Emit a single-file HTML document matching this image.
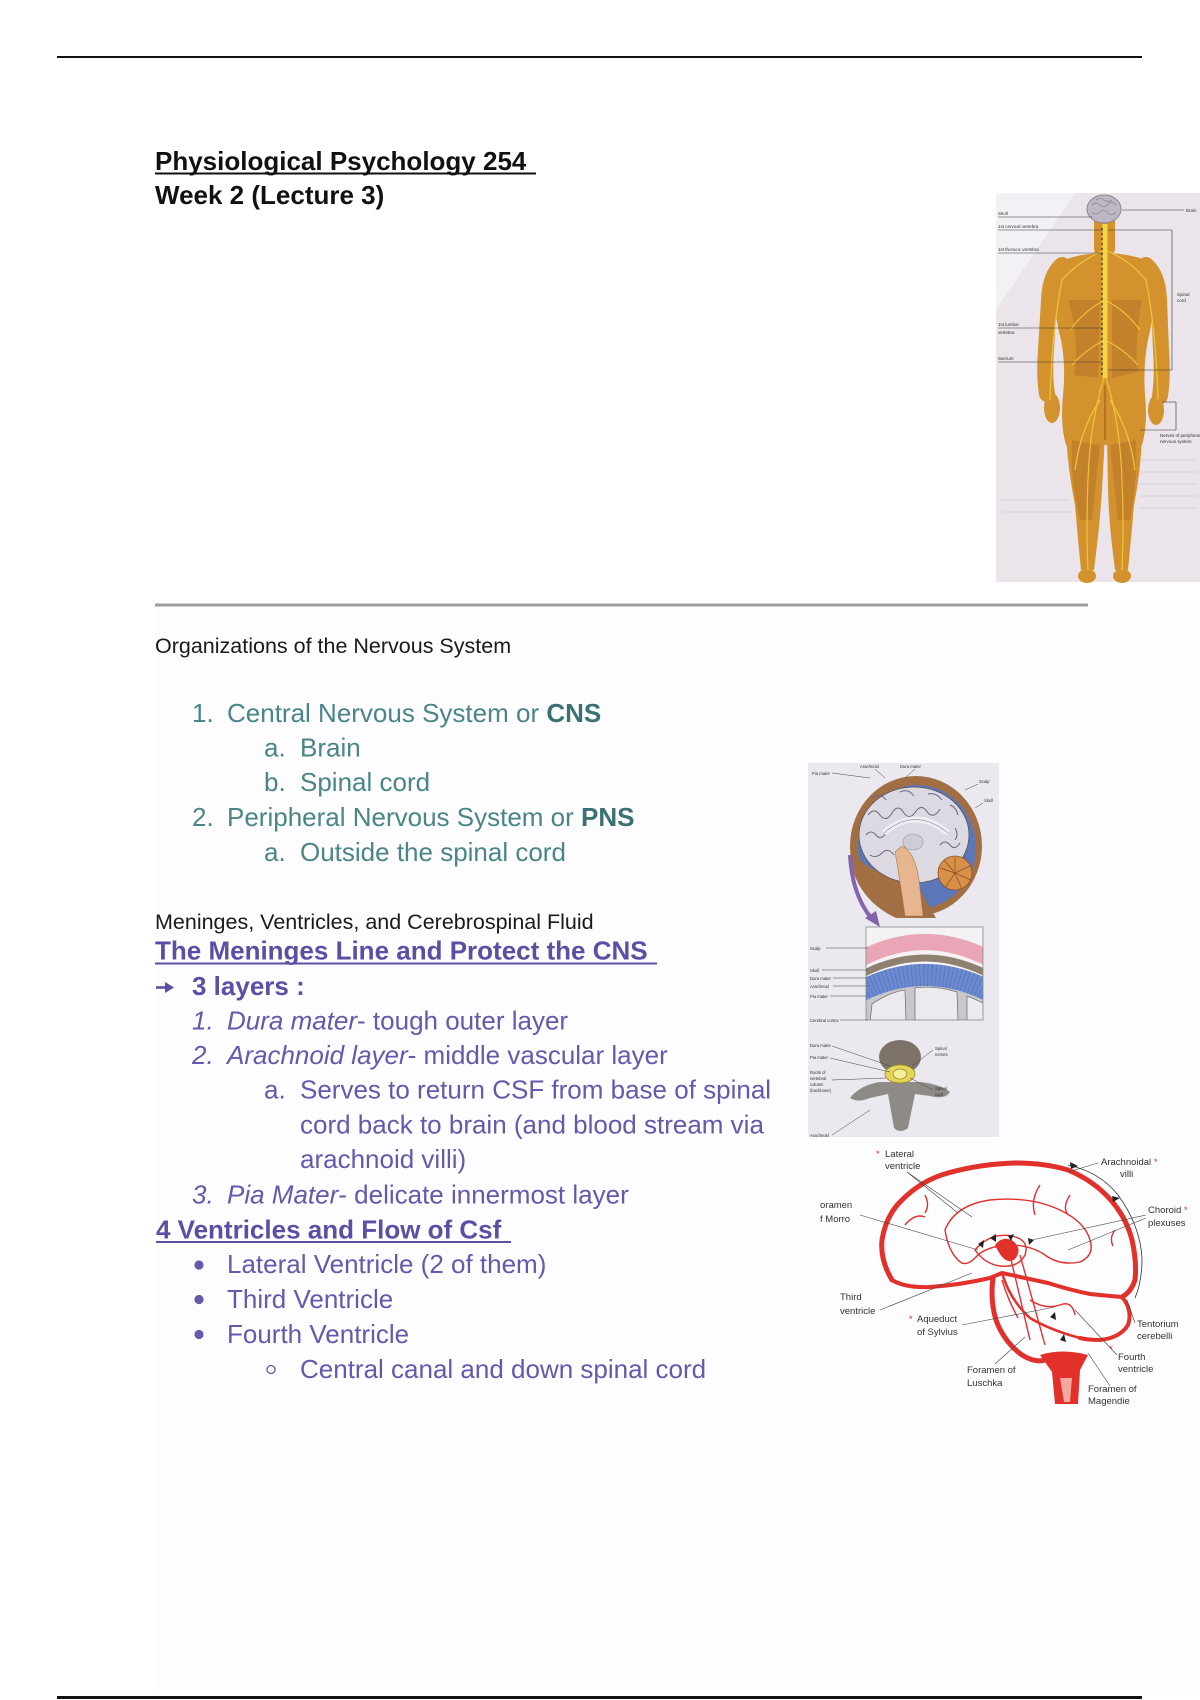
<!DOCTYPE html>
<html><head><meta charset="utf-8"><style>
html,body{margin:0;padding:0;background:#fff;width:1200px;height:1700px;overflow:hidden}
svg{display:block}
</style></head><body>
<svg width="1200" height="1700" viewBox="0 0 1200 1700" xmlns="http://www.w3.org/2000/svg" font-family="'Liberation Sans', Arial, sans-serif">
<rect width="1200" height="1700" fill="#fff"/>
<rect x="157" y="600" width="1043" height="1095" fill="#fdfcfe"/>

<!-- rules -->
<rect x="57" y="56" width="1085" height="2" fill="#111"/>
<rect x="155" y="603.5" width="933" height="3" fill="#9c9c9c"/>
<rect x="57" y="1696" width="1085" height="3" fill="#111"/>

<!-- title -->
<text x="155" y="170" font-size="26" font-weight="bold" fill="#111">Physiological Psychology 254</text>
<rect x="155" y="172.5" width="381" height="2" fill="#111"/>
<text x="155" y="204" font-size="26" font-weight="bold" fill="#111">Week 2 (Lecture 3)</text>

<text x="155" y="653" font-size="21.5" fill="#1a1a1a">Organizations of the Nervous System</text>

<!-- teal list -->
<g font-size="26" fill="#4a8587">
<text x="192" y="722">1.</text><text x="227" y="722">Central Nervous System or <tspan font-weight="bold" fill="#3a7173">CNS</tspan></text>
<text x="264" y="756.5">a.</text><text x="300" y="756.5">Brain</text>
<text x="264" y="791">b.</text><text x="300" y="791">Spinal cord</text>
<text x="192" y="826">2.</text><text x="227" y="826">Peripheral Nervous System or <tspan font-weight="bold" fill="#3a7173">PNS</tspan></text>
<text x="264" y="861">a.</text><text x="300" y="861">Outside the spinal cord</text>
</g>

<text x="155" y="929" font-size="21.5" fill="#1a1a1a">Meninges, Ventricles, and Cerebrospinal Fluid</text>

<!-- purple section -->
<g font-size="26" fill="#6359ad">
<text x="155" y="959.5" font-weight="bold" fill="#5a4fa5">The Meninges Line and Protect the CNS</text>
<rect x="155" y="962.5" width="502" height="2" fill="#5a4fa5"/>
<line x1="156" y1="987.5" x2="167" y2="987.5" stroke="#5a4fa5" stroke-width="2.6"/>
<polygon points="165,982 174,987.5 165,993" fill="#5a4fa5"/>
<text x="192" y="995" font-weight="bold" fill="#5a4fa5">3 layers :</text>
<text x="192" y="1029.5" font-style="italic">1.</text><text x="227" y="1029.5"><tspan font-style="italic">Dura mater</tspan>- tough outer layer</text>
<text x="192" y="1064" font-style="italic">2.</text><text x="227" y="1064"><tspan font-style="italic">Arachnoid layer</tspan>- middle vascular layer</text>
<text x="264" y="1098.5">a.</text><text x="300" y="1098.5">Serves to return CSF from base of spinal</text>
<text x="300" y="1133.5">cord back to brain (and blood stream via</text>
<text x="300" y="1168">arachnoid villi)</text>
<text x="192" y="1203.5" font-style="italic">3.</text><text x="227" y="1203.5"><tspan font-style="italic">Pia Mater</tspan>- delicate innermost layer</text>
<text x="156" y="1238.5" font-weight="bold" fill="#5a4fa5">4 Ventricles and Flow of Csf</text>
<rect x="156" y="1241" width="355" height="2" fill="#5a4fa5"/>
<circle cx="199" cy="1265" r="4.6"/><text x="227" y="1273">Lateral Ventricle (2 of them)</text>
<circle cx="199" cy="1299.5" r="4.6"/><text x="227" y="1308">Third Ventricle</text>
<circle cx="199" cy="1334.5" r="4.6"/><text x="227" y="1343">Fourth Ventricle</text>
<circle cx="271" cy="1369.5" r="4" fill="none" stroke="#6359ad" stroke-width="1.3"/><text x="300" y="1378">Central canal and down spinal cord</text>
</g>

<!-- ============ Human figure ============ -->
<g>
<rect x="996" y="193" width="204" height="389" fill="#ebe4ea"/>
<polygon points="996,193 1075,193 996,310" fill="#f3f1f6"/>
<g stroke="#e0d6df" stroke-width="1.5">
<line x1="1130" y1="460" x2="1195" y2="460"/><line x1="1135" y1="472" x2="1198" y2="472"/><line x1="1140" y1="484" x2="1196" y2="484"/><line x1="1140" y1="496" x2="1198" y2="496"/><line x1="1000" y1="500" x2="1070" y2="500"/><line x1="1002" y1="512" x2="1072" y2="512"/><line x1="1140" y1="508" x2="1196" y2="508"/>
</g>
<g fill="#d4922f">
<rect x="1094" y="215" width="21" height="40" rx="6"/>
<path d="M1058 262 Q1104 244 1152 262 Q1158 300 1148 340 Q1143 365 1145 395 Q1148 425 1142 445 L1066 445 Q1060 425 1063 395 Q1066 365 1061 340 Q1050 300 1058 262 Z"/>
<ellipse cx="1052" cy="408" rx="8" ry="15"/>
<ellipse cx="1156" cy="410" rx="8" ry="15"/>
<path d="M1066 435 L1105 435 L1102 490 Q1100 520 1097 545 L1094 570 L1081 570 Q1078 540 1075 505 Q1068 470 1066 435 Z"/>
<path d="M1107 435 L1142 435 Q1141 470 1134 505 Q1131 540 1128 570 L1115 570 L1112 545 Q1109 520 1108 490 Z"/>
<ellipse cx="1087" cy="576" rx="9" ry="7"/>
<ellipse cx="1122" cy="576" rx="9" ry="7"/>
</g>
<g fill="none" stroke="#d4922f" stroke-linecap="round" stroke-width="16">
<path d="M1062 265 Q1050 275 1049 300 L1046 350 Q1044 375 1047 394"/>
<path d="M1146 265 Q1158 275 1159 300 L1161 350 Q1163 375 1160 396"/>
</g>
<g fill="#b7742a" opacity="0.55">
<path d="M1068 300 Q1080 340 1074 375 L1098 378 L1100 300 Z"/>
<path d="M1112 300 L1112 378 L1138 372 Q1134 340 1142 300 Z"/>
<path d="M1072 440 Q1070 480 1080 520 L1092 520 L1100 445 Z"/>
<path d="M1110 445 L1118 520 L1130 520 Q1138 480 1136 440 Z"/>
</g>
<line x1="1105" y1="385" x2="1105" y2="440" stroke="#a86a20" stroke-width="1.5"/>
<ellipse cx="1104" cy="209" rx="17" ry="14" fill="#bdb8c4" stroke="#8a8590" stroke-width="1"/>
<path d="M1092 205 q4 -4 8 0 q4 4 8 -1 q4 -4 8 1 M1092 212 q4 4 8 0 q4 -4 8 1 q4 4 8 -1 M1096 200 q4 -3 8 0 q4 3 8 0" stroke="#8a8590" stroke-width="0.8" fill="none"/>
<g fill="none" stroke="#f0cc3c" stroke-width="1.2" opacity="0.9">
<path d="M1105 250 Q1080 260 1062 280 Q1052 330 1050 400"/>
<path d="M1105 250 Q1130 260 1146 280 Q1156 330 1158 400"/>
<path d="M1105 300 Q1085 310 1070 330"/><path d="M1105 300 Q1125 310 1140 330"/>
<path d="M1105 340 Q1085 350 1072 365"/><path d="M1105 340 Q1125 350 1138 365"/>
<path d="M1105 375 Q1090 420 1088 480 Q1086 530 1088 570"/>
<path d="M1105 375 Q1120 420 1122 480 Q1124 530 1122 570"/>
<path d="M1100 400 Q1080 430 1075 470"/><path d="M1110 400 Q1130 430 1135 470"/>
</g>
<line x1="1105" y1="224" x2="1105" y2="378" stroke="#f3d545" stroke-width="5"/>
<line x1="1102" y1="228" x2="1102" y2="375" stroke="#5e4a30" stroke-width="1.6" stroke-dasharray="2 3"/>
<g stroke="#333" stroke-width="0.6">
<line x1="998" y1="217" x2="1092" y2="217"/>
<line x1="998" y1="230" x2="1103" y2="230"/>
<line x1="998" y1="253" x2="1103" y2="253"/>
<line x1="998" y1="328" x2="1103" y2="328"/>
<line x1="998" y1="362" x2="1103" y2="362"/>
<line x1="1122" y1="210" x2="1184" y2="210"/>
<line x1="1108" y1="230" x2="1172" y2="230"/>
<line x1="1172" y1="230" x2="1172" y2="370"/>
<line x1="1108" y1="370" x2="1172" y2="370"/>
<line x1="1162" y1="402" x2="1176" y2="402"/>
<line x1="1176" y1="402" x2="1176" y2="430"/>
<line x1="1140" y1="430" x2="1176" y2="430"/>
</g>
<g font-size="4.5" fill="#333">
<text x="998" y="215">Skull</text>
<text x="998" y="228">1st cervical vertebra</text>
<text x="998" y="251">1st thoracic vertebra</text>
<text x="998" y="326">1st lumbar</text><text x="998" y="334">vertebra</text>
<text x="998" y="360">Sacrum</text>
<text x="1186" y="212">Brain</text>
<text x="1177" y="296">Spinal</text><text x="1177" y="302">cord</text>
<text x="1160" y="437">Nerves of peripheral</text><text x="1160" y="443">nervous system</text>
</g>
</g>

<!-- ============ Meninges image ============ -->
<g>
<rect x="808" y="763" width="191" height="374" fill="#ebe8ef"/>
<ellipse cx="916" cy="846" rx="66" ry="70" fill="#a26f45"/>
<ellipse cx="917" cy="847" rx="59" ry="62" fill="#5b77b8"/>
<path d="M852 868 Q862 902 896 918 L936 918 L912 876 Q880 880 858 858 Z" fill="#a26f45"/>
<ellipse cx="914" cy="835" rx="55" ry="48" fill="#dcd9e3" stroke="#555" stroke-width="0.8"/>
<g fill="none" stroke="#6b6880" stroke-width="1">
<path d="M868 815 q6 -8 12 0 q6 8 12 -2 q6 -10 12 0 q6 8 12 -2 q6 -8 12 2 q6 6 12 -4"/>
<path d="M866 835 q5 -6 10 0 q5 6 10 -2"/><path d="M940 845 q5 -6 10 0 q5 6 10 -2"/>
<path d="M872 798 q8 -6 14 2 M900 792 q8 -4 14 4 M928 794 q8 -2 14 6 M950 805 q6 2 8 10"/>
<path d="M870 855 q6 4 12 -2 q6 -6 12 2"/><path d="M955 828 q4 6 0 12"/>
</g>
<path d="M884 833 Q915 806 948 833" fill="none" stroke="#efeef3" stroke-width="6"/>
<path d="M884 833 Q915 806 948 833" fill="none" stroke="#9a98a8" stroke-width="0.8"/>
<ellipse cx="913" cy="842" rx="10" ry="8" fill="#cfccd8" stroke="#999" stroke-width="0.6"/>
<path d="M902 846 Q915 852 919 880 L923 916 L905 916 Q900 880 895 852 Z" fill="#e7b58f" stroke="#a87850" stroke-width="0.6"/>
<circle cx="955" cy="873" r="17" fill="#d88f48" stroke="#8a5020" stroke-width="0.8"/>
<g stroke="#8a5020" stroke-width="0.7"><line x1="955" y1="873" x2="955" y2="857"/><line x1="955" y1="873" x2="970" y2="866"/><line x1="955" y1="873" x2="971" y2="880"/><line x1="955" y1="873" x2="962" y2="889"/><line x1="955" y1="873" x2="945" y2="888"/><line x1="955" y1="873" x2="940" y2="868"/><line x1="955" y1="873" x2="944" y2="860"/></g>
<path d="M850 855 Q852 895 872 919" fill="none" stroke="#8363ad" stroke-width="4"/>
<polygon points="865,918 880,927 876,911" fill="#8363ad"/>
<!-- middle panel -->
<clipPath id="mp"><rect x="866" y="927" width="117" height="93"/></clipPath>
<rect x="866" y="927" width="117" height="93" fill="#f4f2f5"/>
<g clip-path="url(#mp)" fill="none">
<path d="M855 962 Q925 922 995 962" stroke="#eaa5b6" stroke-width="16"/>
<path d="M855 978 Q925 938 995 978" stroke="#8f8070" stroke-width="7"/>
<path d="M855 995 Q925 955 995 995" stroke="#6b8bd0" stroke-width="22"/>
<path d="M855 995 Q925 955 995 995" stroke="#4a66b0" stroke-width="22" stroke-dasharray="1 3" opacity="0.5"/>
<path d="M855 1006 Q925 966 995 1006 L995 1025 L855 1025 Z" fill="#c9c6cc"/>
<path d="M870 1022 L872 1004 Q890 992 905 990 L906 1022 Z M915 1022 L915 988 Q935 985 957 992 L958 1022 Z M967 1022 L967 996 Q975 999 985 1004 L985 1022 Z" fill="#eceaee" stroke="#777" stroke-width="0.8"/>
</g>
<rect x="866" y="927" width="117" height="93" fill="none" stroke="#888" stroke-width="0.8"/>
<!-- vertebra -->
<ellipse cx="900" cy="1057" rx="21" ry="17" fill="#7d7369"/>
<path d="M850 1098 Q860 1085 880 1082 L920 1082 Q940 1084 950 1092 Q945 1100 930 1096 L915 1094 L908 1128 Q900 1134 894 1128 L888 1094 L870 1098 Q858 1103 850 1098 Z" fill="#8e8a86"/>
<ellipse cx="900" cy="1074" rx="15" ry="9" fill="#e3d65a" stroke="#9a8a20" stroke-width="0.8"/>
<ellipse cx="900" cy="1074" rx="7" ry="5" fill="#f5ee9a" stroke="#9a8a20" stroke-width="0.8"/>
<g stroke="#444" stroke-width="0.5">
<line x1="832" y1="773" x2="870" y2="778"/><line x1="875" y1="769" x2="885" y2="778"/><line x1="915" y1="769" x2="905" y2="778"/><line x1="978" y1="784" x2="965" y2="790"/><line x1="983" y1="803" x2="975" y2="808"/>
<line x1="826" y1="948" x2="868" y2="948"/><line x1="822" y1="970" x2="868" y2="970"/><line x1="833" y1="978" x2="868" y2="978"/><line x1="833" y1="986" x2="868" y2="986"/><line x1="830" y1="996" x2="868" y2="996"/><line x1="840" y1="1020" x2="868" y2="1020"/>
<line x1="832" y1="1046" x2="890" y2="1066"/><line x1="830" y1="1058" x2="890" y2="1072"/><line x1="832" y1="1080" x2="886" y2="1078"/><line x1="832" y1="1135" x2="870" y2="1110"/>
<line x1="933" y1="1050" x2="912" y2="1066"/><line x1="933" y1="1090" x2="910" y2="1078"/>
</g>
<g font-size="4.2" fill="#333">
<text x="860" y="768">Arachnoid</text><text x="900" y="768">Dura mater</text>
<text x="812" y="775">Pia mater</text><text x="979" y="783">Scalp</text><text x="984" y="802">Skull</text>
<text x="810" y="950">Scalp</text><text x="810" y="972">Skull</text><text x="810" y="980">Dura mater</text><text x="810" y="988">Arachnoid</text><text x="810" y="998">Pia mater</text><text x="810" y="1022">Cerebral cortex</text>
<text x="810" y="1047">Dura mater</text><text x="810" y="1059">Pia mater</text><text x="810" y="1074">Roots of</text><text x="810" y="1080">vertebral</text><text x="810" y="1086">column</text><text x="810" y="1092">(backbone)</text><text x="810" y="1137">Arachnoid</text>
<text x="935" y="1050">Spinal</text><text x="935" y="1056">nerves</text><text x="935" y="1090">Spinal</text><text x="935" y="1096">cord</text>
</g>
</g>

<!-- ============ Ventricles image ============ -->
<g>
<g fill="none" stroke="#e2302b" stroke-linecap="round" stroke-linejoin="round">
<path d="M892 1280 Q880 1260 882 1240 Q886 1215 902 1200 Q922 1180 948 1173 Q980 1164 1015 1163 Q1045 1163 1068 1170 Q1092 1180 1108 1197 Q1126 1216 1132 1240 Q1137 1262 1135 1280 Q1131 1292 1122 1297" stroke-width="5"/>
<path d="M892 1280 Q905 1288 930 1287 Q960 1285 990 1278 L1002 1273 Q1025 1278 1048 1283 Q1070 1290 1090 1294 Q1110 1296 1122 1297" stroke-width="4"/>
<path d="M1122 1297 Q1133 1310 1128 1325 Q1120 1338 1100 1340 Q1088 1340 1080 1338" stroke-width="4"/>
<path d="M993 1278 Q990 1300 996 1320 Q1004 1342 1022 1355 Q1035 1363 1045 1360" stroke-width="5"/>
<path d="M1002 1273 Q1010 1300 1030 1318 Q1050 1330 1080 1338" stroke-width="2.5"/>
</g>
<path d="M1040 1355 Q1062 1348 1088 1355 L1080 1370 L1078 1404 L1055 1404 L1052 1372 Z" fill="#e2302b"/>
<path d="M1060 1378 L1064 1402 L1070 1402 L1072 1378 Z" fill="#f4a8a0"/>
<g fill="none" stroke="#e2302b" stroke-width="1.4">
<path d="M945 1230 Q955 1205 990 1200 Q1030 1196 1060 1210 Q1085 1222 1090 1240 Q1095 1255 1080 1262 Q1060 1266 1045 1255 Q1030 1245 1010 1245 Q985 1246 975 1258 Q965 1268 958 1260 Q948 1250 945 1230 Z"/>
<path d="M975 1250 Q990 1232 1012 1236 Q1030 1240 1025 1255 Q1018 1268 1000 1266 Q985 1264 975 1250 Z"/>
<path d="M905 1225 q10 -12 20 -8 M925 1195 q5 10 0 18 M1070 1195 q-8 12 -2 20 M1115 1230 q-6 8 -2 16 M1040 1185 q-10 15 -5 30"/>
<path d="M1002 1280 Q1008 1300 1018 1318 M1030 1300 Q1045 1310 1060 1305 Q1072 1300 1075 1315"/>
<path d="M1010 1255 L1030 1340 M1020 1255 L1045 1345"/>
</g>
<path d="M995 1245 q8 -10 18 -4 q10 8 2 18 q-10 8 -20 -14 z" fill="#e2302b"/>
<g fill="#222"><polygon points="978,1244 984,1240 983,1248"/><polygon points="990,1238 996,1234 996,1242"/><polygon points="1008,1236 1014,1234 1011,1241"/><polygon points="1028,1238 1034,1240 1029,1245"/><polygon points="1050,1317 1055,1312 1056,1320"/><polygon points="1060,1340 1064,1334 1066,1342"/><polygon points="1070,1162 1078,1166 1071,1169"/><polygon points="1112,1196 1120,1198 1113,1202"/></g>
<path d="M1068 1165 Q1100 1172 1118 1195 Q1140 1225 1142 1258 Q1142 1282 1135 1298" fill="none" stroke="#333" stroke-width="0.8"/>
<g stroke="#444" stroke-width="0.6">
<line x1="907" y1="1172" x2="972" y2="1217"/><line x1="907" y1="1172" x2="958" y2="1213"/>
<line x1="1098" y1="1163" x2="1068" y2="1172"/>
<line x1="860" y1="1215" x2="978" y2="1250"/>
<line x1="1146" y1="1215" x2="1032" y2="1240"/><line x1="1146" y1="1218" x2="1068" y2="1250"/>
<line x1="880" y1="1310" x2="972" y2="1273"/>
<line x1="962" y1="1325" x2="1055" y2="1307"/>
<line x1="1135" y1="1323" x2="1127" y2="1300"/>
<line x1="1117" y1="1355" x2="1075" y2="1310"/>
<line x1="995" y1="1364" x2="1025" y2="1337"/>
<line x1="1110" y1="1386" x2="1088" y2="1353"/>
</g>
<g font-size="9.5" fill="#333">
<text x="876" y="1157" fill="#e2302b">*</text><text x="885" y="1157">Lateral</text><text x="885" y="1169">ventricle</text>
<text x="1101" y="1165">Arachnoidal <tspan fill="#e2302b">*</tspan></text><text x="1120" y="1177">villi</text>
<text x="820" y="1208">oramen</text><text x="820" y="1222">f Morro</text>
<text x="1148" y="1213">Choroid <tspan fill="#e2302b">*</tspan></text><text x="1148" y="1226">plexuses</text>
<text x="840" y="1300">Third</text><text x="840" y="1314">ventricle</text>
<text x="909" y="1322" fill="#e2302b">*</text><text x="917" y="1322">Aqueduct</text><text x="917" y="1335">of Sylvius</text>
<text x="1137" y="1327">Tentorium</text><text x="1137" y="1339">cerebelli</text>
<text x="1109" y="1352" fill="#e2302b">*</text><text x="1118" y="1360">Fourth</text><text x="1118" y="1372">ventricle</text>
<text x="967" y="1373">Foramen of</text><text x="967" y="1386">Luschka</text>
<text x="1088" y="1392">Foramen of</text><text x="1088" y="1404">Magendie</text>
</g>
</g>
</svg>
</body></html>
